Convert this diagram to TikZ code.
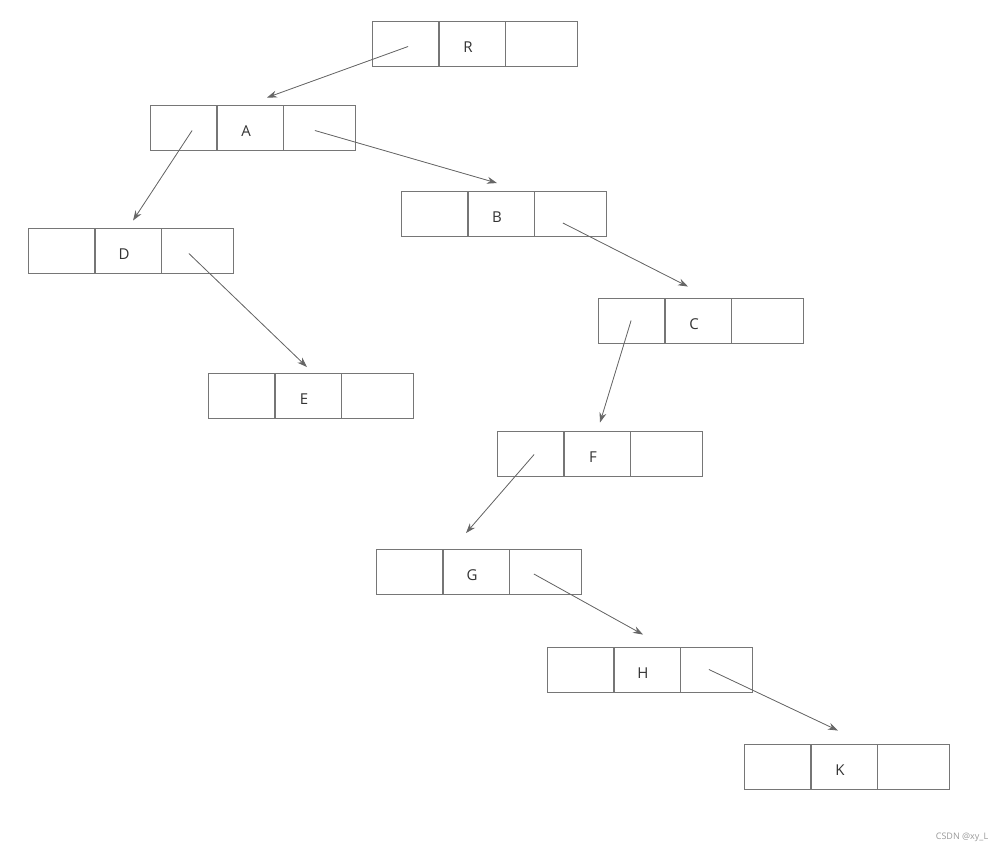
\documentclass[tikz,border=0pt]{standalone}
\usepackage{fontspec}
\setmainfont{Open Sans}
\usetikzlibrary{positioning, arrows.meta, calc}
\definecolor{boxline}{HTML}{767676}
\definecolor{arrowline}{HTML}{666666}

\begin{document}
\begin{tikzpicture}[x=1pt, y=-1pt, font=\fontsize{15}{17}\selectfont, >={Stealth[length=10pt, width=7pt]},
  c/.style={draw=boxline, line width=0.9pt, minimum height=45pt, minimum width=66pt, inner sep=0pt, text=black!80},
  cmid/.style={c, text height=17pt, text depth=0pt, execute at begin node={\hspace*{-8pt}}},
  cr/.style={c, minimum width=72pt},
  ln/.style={->, draw=arrowline, fill=arrowline, line width=0.8pt}]
  \useasboundingbox (0,0) rectangle (1004,852);
  % R
  \node[cmid] (Rm) at (472,43.5) {R};
  \node[c, left=0pt of Rm] (Rl) {}; \node[cr, right=0pt of Rm] (Rr) {};
  % A
  \node[cmid] (Am) at (250,127.5) {A};
  \node[c, left=0pt of Am] (Al) {}; \node[cr, right=0pt of Am] (Ar) {};
  % B
  \node[cmid] (Bm) at (501,214) {B};
  \node[c, left=0pt of Bm] (Bl) {}; \node[cr, right=0pt of Bm] (Br) {};
  % D
  \node[cmid] (Dm) at (128,250.5) {D};
  \node[c, left=0pt of Dm] (Dl) {}; \node[cr, right=0pt of Dm] (Dr) {};
  % C
  \node[cmid] (Cm) at (698,320.5) {C};
  \node[c, left=0pt of Cm] (Cl) {}; \node[cr, right=0pt of Cm] (Cr) {};
  % E
  \node[cmid] (Em) at (308,396) {E};
  \node[c, left=0pt of Em] (El) {}; \node[cr, right=0pt of Em] (Er) {};
  % F
  \node[cmid] (Fm) at (597,453.5) {F};
  \node[c, left=0pt of Fm] (Fl) {}; \node[cr, right=0pt of Fm] (Fr) {};
  % G
  \node[cmid] (Gm) at (476,572) {G};
  \node[c, left=0pt of Gm] (Gl) {}; \node[cr, right=0pt of Gm] (Gr) {};
  % H
  \node[cmid] (Hm) at (647,669.5) {H};
  \node[c, left=0pt of Hm] (Hl) {}; \node[cr, right=0pt of Hm] (Hr) {};
  % K
  \node[cmid] (Km) at (844,766.5) {K};
  \node[c, left=0pt of Km] (Kl) {}; \node[cr, right=0pt of Km] (Kr) {};

  % arrow tips
  \coordinate (tA) at ($(Am.north)+(17,-7)$);
  \coordinate (tD) at ($(Dm.north)+(5,-7)$);
  \coordinate (tB) at ($(Bm.north)+(-4,-8)$);
  \coordinate (tE) at ($(Em.north)+(-1,-6)$);
  \coordinate (tC) at ($(Cm.north)+(-10,-11)$);
  \coordinate (tF) at ($(Fm.north)+(3,-8)$);
  \coordinate (tG) at ($(Gm.north)+(-10,-16)$);
  \coordinate (tH) at ($(Hm.north)+(-4,-12)$);
  \coordinate (tK) at ($(Km.north)+(-6,-13)$);

  \draw[ln] ([shift={(3,3)}]Rl.center) -- (tA);
  \draw[ln] ([shift={(9,3)}]Al.center) -- (tD);
  \draw[ln] ([shift={(-5,3)}]Ar.center) -- (tB);
  \draw[ln] ([shift={(-9,3)}]Dr.center) -- (tE);
  \draw[ln] ([shift={(-8,9)}]Br.center) -- (tC);
  \draw[ln] (Cl.center) -- (tF);
  \draw[ln] ([shift={(4,1)}]Fl.center) -- (tG);
  \draw[ln] ([shift={(-12,2)}]Gr.center) -- (tH);
  \draw[ln] ([shift={(-8,0)}]Hr.center) -- (tK);

  \node[font=\fontsize{9}{11}\selectfont, text=black!40] (mark) at (962,837) {CSDN @xy\_L};
\end{tikzpicture}
\end{document}
